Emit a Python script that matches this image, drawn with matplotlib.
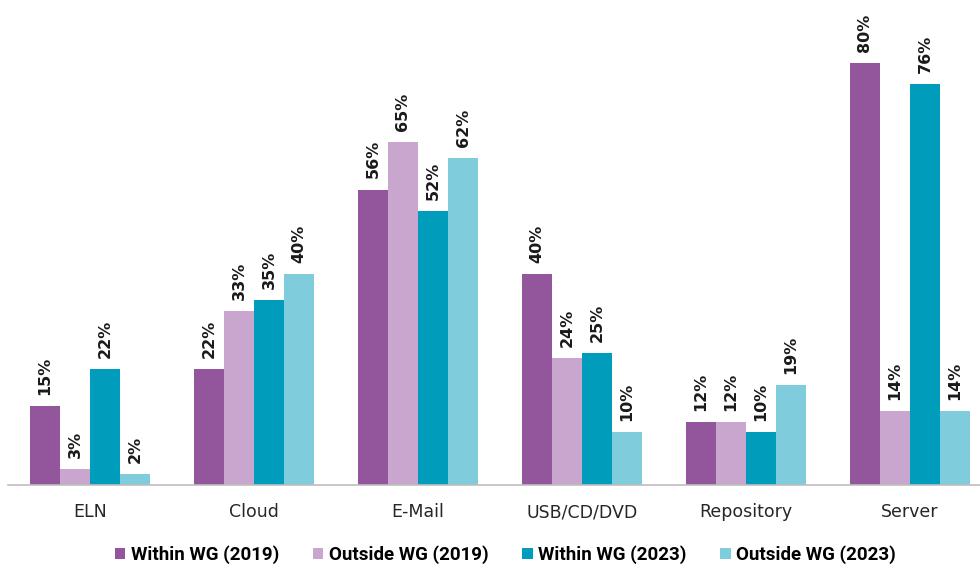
import matplotlib
matplotlib.use("Agg")
import matplotlib.pyplot as plt
import numpy as np

categories = ["ELN", "Cloud", "E-Mail", "USB/CD/DVD", "Repository", "Server"]
series_names = ["Within WG (2019)", "Outside WG (2019)", "Within WG (2023)", "Outside WG (2023)"]
within_2019 = [15, 22, 56, 40, 12, 80]
outside_2019 = [3, 33, 65, 24, 12, 14]
within_2023 = [22, 35, 52, 25, 10, 76]
outside_2023 = [2, 40, 62, 10, 19, 14]
colors = ["#93559B", "#C8A6CE", "#009CBB", "#7ECCDC"]

W, H = 980, 566
fig = plt.figure(figsize=(W / 100, H / 100), dpi=100)
px = 5.275
base = 485
left = 8
grp = 164
ax = fig.add_axes([left / W, (H - base) / H, 6 * grp / W, 90 * px / H])

x = np.arange(len(categories))
bw = 0.183
data = [within_2019, outside_2019, within_2023, outside_2023]
handles = []
for i, (vals, c, name) in enumerate(zip(data, colors, series_names)):
    pos = x + (i - 1.5) * bw
    b = ax.bar(pos, vals, width=bw, color=c, label=name)
    handles.append(b)
    for p, v in zip(pos, vals):
        ax.annotate(f"{v}%", (p, v), xytext=(0, 8), textcoords="offset points",
                    rotation=90, ha="center", va="bottom", fontsize=11.5,
                    fontweight="bold", color="#1a1a1a", family="DejaVu Sans")

ax.set_xlim(-0.5, 5.5)
ax.set_ylim(0, 90)
ax.set_xticks(x)
ax.set_xticklabels(categories, fontsize=12.5, color="#262626")
ax.tick_params(axis="x", length=0, pad=13)
ax.set_yticks([])
for s in ["top", "right", "left"]:
    ax.spines[s].set_visible(False)
ax.spines["bottom"].set_color("#BFBFBF")
ax.spines["bottom"].set_linewidth(1.2)

leg = fig.legend(handles=handles, loc="center", bbox_to_anchor=(0.516, 1 - 555 / H),
                 ncol=4, frameon=False, handlelength=0.55, handleheight=0.55,
                 handletextpad=0.3, columnspacing=1.8,
                 prop={"family": "Roboto", "weight": "bold", "size": 13.5})

fig.savefig("out.png", dpi=100)
